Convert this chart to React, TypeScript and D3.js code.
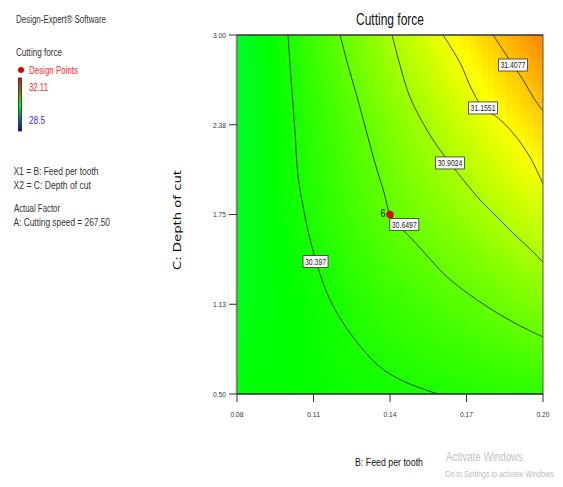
import React, { useMemo } from 'react';
import * as d3 from 'd3';

// axis ticks
const feedTicks = [0.08, 0.11, 0.14, 0.17, 0.2];
const feedTickLabels = ['0.08', '0.11', '0.14', '0.17', '0.20'];
const depthTicks = [0.5, 1.125, 1.75, 2.375, 3.0];
const depthTickLabels = ['0.50', '1.13', '1.75', '2.38', '3.00'];

const gridFeed = [0.08, 0.11, 0.14, 0.17, 0.2];
const gridDepth = [0.5, 1.125, 1.75, 2.375, 3.0];
const forceGrid = [
  [30.28, 30.32, 30.37, 30.42, 30.47],
  [30.22, 30.34, 30.5, 30.62, 30.76],
  [30.18, 30.42, 30.65, 30.84, 31.06],
  [30.16, 30.46, 30.75, 31.04, 31.36],
  [30.15, 30.52, 30.9, 31.27, 31.65],
];

// contour lines as [feed, depth]
const contourLevels = ['30.397', '30.6497', '30.9024', '31.1551', '31.4077'];
const line30397 = [
  [0.1, 3.0], [0.1012, 2.687], [0.1027, 2.338], [0.1039, 2.025], [0.1067, 1.733],
  [0.1094, 1.524], [0.1114, 1.398], [0.1165, 1.155], [0.1243, 0.925],
  [0.1361, 0.688], [0.1459, 0.584], [0.1588, 0.5],
];
const line306497 = [
  [0.1204, 3.0], [0.1235, 2.791], [0.1271, 2.568], [0.1306, 2.338], [0.1341, 2.109],
  [0.1376, 1.907], [0.14, 1.753], [0.1439, 1.663], [0.149, 1.572], [0.1557, 1.44],
  [0.1624, 1.315], [0.1753, 1.141], [0.1882, 1.001], [0.2, 0.897],
];
const line309024 = [
  [0.1408, 3.0], [0.1439, 2.791], [0.1478, 2.568], [0.1545, 2.338], [0.1596, 2.199],
  [0.1635, 2.109], [0.1694, 1.976], [0.1753, 1.851], [0.182, 1.733], [0.1882, 1.621],
  [0.1949, 1.51], [0.2, 1.419],
];
const line311551 = [
  [0.1608, 3.0], [0.1675, 2.805], [0.1718, 2.631], [0.1765, 2.492], [0.1824, 2.422],
  [0.1882, 2.318], [0.1949, 2.15], [0.2, 1.962],
];
const line314077 = [
  [0.1804, 3.0], [0.1843, 2.896], [0.1882, 2.791], [0.1922, 2.687], [0.1961, 2.568],
  [0.2, 2.471],
];
const contourLines = [line30397, line306497, line309024, line311551, line314077];

const designPoints = [{ feed: 0.14, depth: 1.75, reps: '6' }];
const legendRange = [28.5, 32.11];

// layout
const W = 563, H = 487;
const plot = { left: 237, right: 543, top: 35, bottom: 394 };
const labelAt = [
  [0.1108, 1.423], [0.1456, 1.68], [0.1635, 2.109], [0.1765, 2.492], [0.1882, 2.791],
];
const font = "'Liberation Sans Narrow', 'Liberation Sans', Arial, sans-serif";

function sampleForce(f: number, d: number) {
  const fi = Math.min(gridFeed.length - 2, Math.max(0, d3.bisectRight(gridFeed, f) - 1));
  const di = Math.min(gridDepth.length - 2, Math.max(0, d3.bisectRight(gridDepth, d) - 1));
  const tf = (f - gridFeed[fi]) / (gridFeed[fi + 1] - gridFeed[fi]);
  const td = (d - gridDepth[di]) / (gridDepth[di + 1] - gridDepth[di]);
  const a = forceGrid[di][fi] * (1 - tf) + forceGrid[di][fi + 1] * tf;
  const b = forceGrid[di + 1][fi] * (1 - tf) + forceGrid[di + 1][fi + 1] * tf;
  return a * (1 - td) + b * td;
}

const T = ({ x, y, w, size = 10, fill = '#333', anchor = 'start', children, family = font }: any) => (
  <text x={x} y={y} fontSize={size} fill={fill} textAnchor={anchor} fontFamily={family}
    textLength={w} lengthAdjust="spacingAndGlyphs">{children}</text>
);

export default function App() {
  const x = d3.scaleLinear().domain([0.08, 0.2]).range([plot.left, plot.right]);
  const y = d3.scaleLinear().domain([0.5, 3.0]).range([plot.bottom, plot.top]);
  const mid = (legendRange[0] + legendRange[1]) / 2;
  const hue = d3.scaleLinear().domain([legendRange[0], mid, legendRange[1]]).range([240, 120, 0]);
  const color = (v: number) => d3.hsl(hue(v), 1, 0.5).formatHex();

  const cells = useMemo(() => {
    const nx = 50, ny = 58;
    const out: any[] = [];
    const fs = d3.scaleLinear().domain([0, nx]).range([0.08, 0.2]);
    const ds = d3.scaleLinear().domain([0, ny]).range([0.5, 3.0]);
    for (let i = 0; i < nx; i++) {
      for (let j = 0; j < ny; j++) {
        const v = sampleForce(fs(i + 0.5), ds(j + 0.5));
        out.push({ x0: fs(i), x1: fs(i + 1), y0: ds(j), y1: ds(j + 1), v });
      }
    }
    return out;
  }, []);

  const line = d3.line<number[]>().x(d => x(d[0])).y(d => y(d[1])).curve(d3.curveCatmullRom);

  return (
    <svg width={W} height={H} style={{ position: 'absolute', left: 0, top: 0, background: '#fff' }}>
      <defs>
        <linearGradient id="bar" x1="0" y1="0" x2="0" y2="1">
          <stop offset="0" stopColor="#ff0000" />
          <stop offset="0.5" stopColor="#00ff00" />
          <stop offset="1" stopColor="#0000ff" />
        </linearGradient>
        <clipPath id="pc">
          <rect x={plot.left} y={plot.top} width={plot.right - plot.left} height={plot.bottom - plot.top} />
        </clipPath>
      </defs>

      {/* left panel */}
      <T x={16} y={23} w={90}>Design-Expert® Software</T>
      <T x={16} y={56} w={46}>Cutting force</T>
      <circle cx={21} cy={70} r={3} fill="#e00000" />
      <T x={29} y={73.5} w={49} fill="#ff2a2a">Design Points</T>
      <rect x={18.5} y={78} width={3} height={53} fill="url(#bar)" stroke="#222" strokeWidth={0.8} />
      <T x={29} y={91} w={19} fill="#ff2020">{legendRange[1].toFixed(2)}</T>
      <T x={29} y={124} w={16} fill="#3030ff">{String(legendRange[0])}</T>
      <T x={13.5} y={175} w={85}>X1 = B: Feed per tooth</T>
      <T x={13.5} y={189} w={77.5}>X2 = C: Depth of cut</T>
      <T x={14} y={212} w={46}>Actual Factor</T>
      <T x={13.5} y={226} w={96.5}>A: Cutting speed = 267.50</T>

      {/* field */}
      <g clipPath="url(#pc)" shapeRendering="crispEdges">
        {cells.map((c, k) => (
          <rect key={k} x={x(c.x0)} y={y(c.y1)} width={x(c.x1) - x(c.x0) + 0.6}
            height={y(c.y0) - y(c.y1) + 0.6} fill={color(c.v)} />
        ))}
      </g>

      {/* contours */}
      <g clipPath="url(#pc)" fill="none" stroke="#1a1a1a" strokeWidth={0.8}>
        {contourLines.map((pts, k) => <path key={k} d={line(pts) || ''} />)}
      </g>

      {/* frame and axes */}
      <rect x={plot.left} y={plot.top} width={plot.right - plot.left} height={plot.bottom - plot.top}
        fill="none" stroke="#555" strokeWidth={1} />
      <line x1={plot.left} x2={plot.right} y1={plot.bottom} y2={plot.bottom} stroke="#111" strokeWidth={1.2} />
      <line x1={plot.left} x2={plot.right} y1={plot.top} y2={plot.top} stroke="#222" strokeWidth={1} />
      <line x1={plot.left - 0.5} x2={plot.left - 0.5} y1={plot.top} y2={plot.bottom} stroke="#888" strokeWidth={1.5} />

      {depthTicks.map((t, i) => (
        <g key={i}>
          <line x1={plot.left - 8} x2={plot.left} y1={y(t)} y2={y(t)} stroke="#333" strokeWidth={1} />
          <T x={226} y={y(t) + 2.8} w={13} size={8} anchor="end" fill="#333">{depthTickLabels[i]}</T>
        </g>
      ))}
      {feedTicks.map((t, i) => (
        <g key={i}>
          <line x1={x(t)} x2={x(t)} y1={plot.bottom} y2={plot.bottom + 8} stroke="#333" strokeWidth={1} />
          <T x={x(t)} y={417} w={13} size={8} anchor="middle" fill="#333">{feedTickLabels[i]}</T>
        </g>
      ))}

      {/* contour labels */}
      {contourLevels.map((lab, k) => {
        const cx = x(labelAt[k][0]), cy = y(labelAt[k][1]);
        const bw = lab.length > 6 ? 29 : 25;
        return (
          <g key={k}>
            <rect x={cx - bw / 2} y={cy - 6} width={bw} height={12} fill="#fff" stroke="#333" strokeWidth={0.8} />
            <T x={cx} y={cy + 3.2} w={bw - 4} size={8.5} anchor="middle" fill="#222">{lab}</T>
          </g>
        );
      })}

      {/* design points */}
      {designPoints.map((p, k) => (
        <g key={k}>
          <circle cx={x(p.feed)} cy={y(p.depth)} r={3.5} fill="#ee0000" stroke="#a00" strokeWidth={0.5} />
          <T x={x(p.feed) - 4.5} y={y(p.depth) + 2.5} w={5} size={10} anchor="end" fill="#111">{p.reps}</T>
        </g>
      ))}

      {/* titles */}
      <T x={(plot.left + plot.right) / 2} y={25} w={68} size={16} anchor="middle" fill="#111">Cutting force</T>
      <T x={389} y={466} w={68} size={11} anchor="middle" fill="#111">B: Feed per tooth</T>
      <g transform="translate(181,220) rotate(-90)">
        <T x={0} y={0} w={100} size={11} anchor="middle" fill="#111" family="'DejaVu Sans', sans-serif">C: Depth of cut</T>
      </g>

      {/* watermark */}
      <T x={446} y={461} w={77} size={13} fill="#c4c4c4">Activate Windows</T>
      <g transform="translate(445,477) scale(0.78,1)">
        <text x={0} y={0} fontSize={9} fill="#bcbcbc" fontFamily="'Liberation Sans', Arial, sans-serif">
          Go to Settings to activate Windows
        </text>
      </g>
    </svg>
  );
}
